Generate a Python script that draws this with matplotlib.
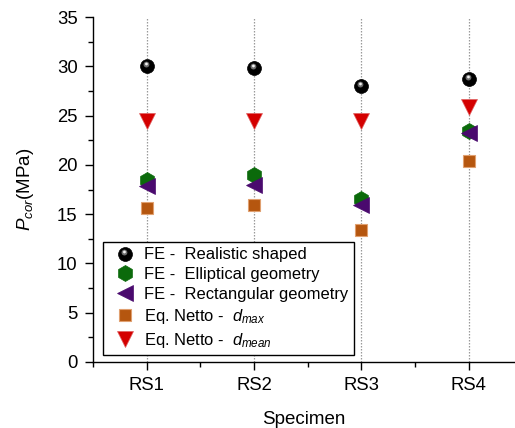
import numpy as np
import matplotlib
matplotlib.use("Agg")
import matplotlib.pyplot as plt
from matplotlib.path import Path
from matplotlib.legend_handler import HandlerTuple
from matplotlib.ticker import MultipleLocator

plt.rcParams['font.family'] = ['Liberation Sans', 'DejaVu Sans']
plt.rcParams['mathtext.fontset'] = 'custom'
plt.rcParams['mathtext.rm'] = 'Liberation Sans'
plt.rcParams['mathtext.it'] = 'Liberation Sans:italic'
plt.rcParams['mathtext.bf'] = 'Liberation Sans:bold'

# ---- data ----
specimens = ["RS1", "RS2", "RS3", "RS4"]
fe_realistic = [30.0, 29.8, 28.0, 28.7]
fe_elliptical = [18.5, 19.0, 16.5, 23.4]
fe_rectangular = [17.9, 18.0, 15.9, 23.2]
netto_dmax = [15.6, 15.9, 13.4, 20.4]
netto_dmean = [24.5, 24.5, 24.4, 25.9]

labels = ["FE -  Realistic shaped",
          "FE -  Elliptical geometry",
          "FE -  Rectangular geometry",
          r"Eq. Netto -  $d_{max}$",
          r"Eq. Netto -  $d_{mean}$"]

x = np.arange(1, len(specimens) + 1)

fig = plt.figure(figsize=(5.15, 4.28), dpi=100)
ax = fig.add_axes([93/515, 66/428, 1 - 93/515, (362 - 17)/428])

# vertical dotted grid lines
for xi in x:
    ax.axvline(xi, color='#9a9a9a', lw=0.9, ls=(0, (1.2, 1.2)), zorder=0)


def offset_circle(cx, cy, r, ms_sphere):
    p = Path.circle((cx, cy), r)
    m = np.max(np.abs(p.vertices))
    return p, m * ms_sphere


ms_sph = 10
hl1, ms1 = offset_circle(-0.15, 0.28, 0.42, ms_sph)
hl2, ms2 = offset_circle(-0.15, 0.36, 0.2, ms_sph)

s0, = ax.plot(x, fe_realistic, ls='none', marker='o', ms=ms_sph, mfc='black',
              mec='black', mew=0.5, zorder=3)
s1, = ax.plot(x, fe_realistic, ls='none', marker=hl1, ms=ms1, mfc='#6e6e6e',
              mec='none', zorder=3.1)
s2, = ax.plot(x, fe_realistic, ls='none', marker=hl2, ms=ms2, mfc='#f2f2f2',
              mec='none', zorder=3.2)

h_ell, = ax.plot(x, fe_elliptical, ls='none', marker='h', ms=11.5,
                 mfc='#0b6a0b', mec='#0b6a0b', mew=0.5, zorder=3)
h_rect, = ax.plot(x, fe_rectangular, ls='none', marker='<', ms=11,
                  mfc='#4a0a6e', mec='#4a0a6e', mew=0.5, zorder=3.3)
h_max, = ax.plot(x, netto_dmax, ls='none', marker='s', ms=8.5,
                 mfc='#b5560f', mec='#e0a070', mew=0.8, zorder=3)
h_mean, = ax.plot(x, netto_dmean, ls='none', marker='v', ms=11,
                  mfc='#d40000', mec='#e06060', mew=0.5, zorder=3)

ax.set_xlim(0.5, 4.43)
ax.set_ylim(0, 35)
ax.set_xticks(x)
ax.set_xticklabels(specimens)
ax.xaxis.set_minor_locator(MultipleLocator(0.5))
ax.yaxis.set_major_locator(MultipleLocator(5))
ax.yaxis.set_minor_locator(MultipleLocator(2.5))

ax.tick_params(axis='both', which='major', direction='out', length=6,
               width=1, labelsize=13.3, colors='black', pad=5)
ax.tick_params(axis='both', which='minor', direction='out', length=3.5,
               width=1)

for side in ['top', 'right']:
    ax.spines[side].set_visible(False)
for side in ['left', 'bottom']:
    ax.spines[side].set_linewidth(1)

ax.set_xlabel("Specimen", fontsize=13.5, labelpad=12)
ax.set_ylabel(r"$P_{cor}$(MPa)", fontsize=13.5, labelpad=15)

leg = ax.legend([(s0, s1, s2), h_ell, h_rect, h_max, h_mean], labels,
                handler_map={tuple: HandlerTuple(ndivide=1, pad=0)},
                loc='lower left', bbox_to_anchor=(0.024, 0.02),
                borderaxespad=0, fontsize=11.9, frameon=True,
                fancybox=False, edgecolor='black', framealpha=1,
                labelspacing=0.3, handlelength=2.0, handletextpad=0.2,
                borderpad=0.3)
leg.get_frame().set_linewidth(1)

fig.savefig("out.png", dpi=100)
